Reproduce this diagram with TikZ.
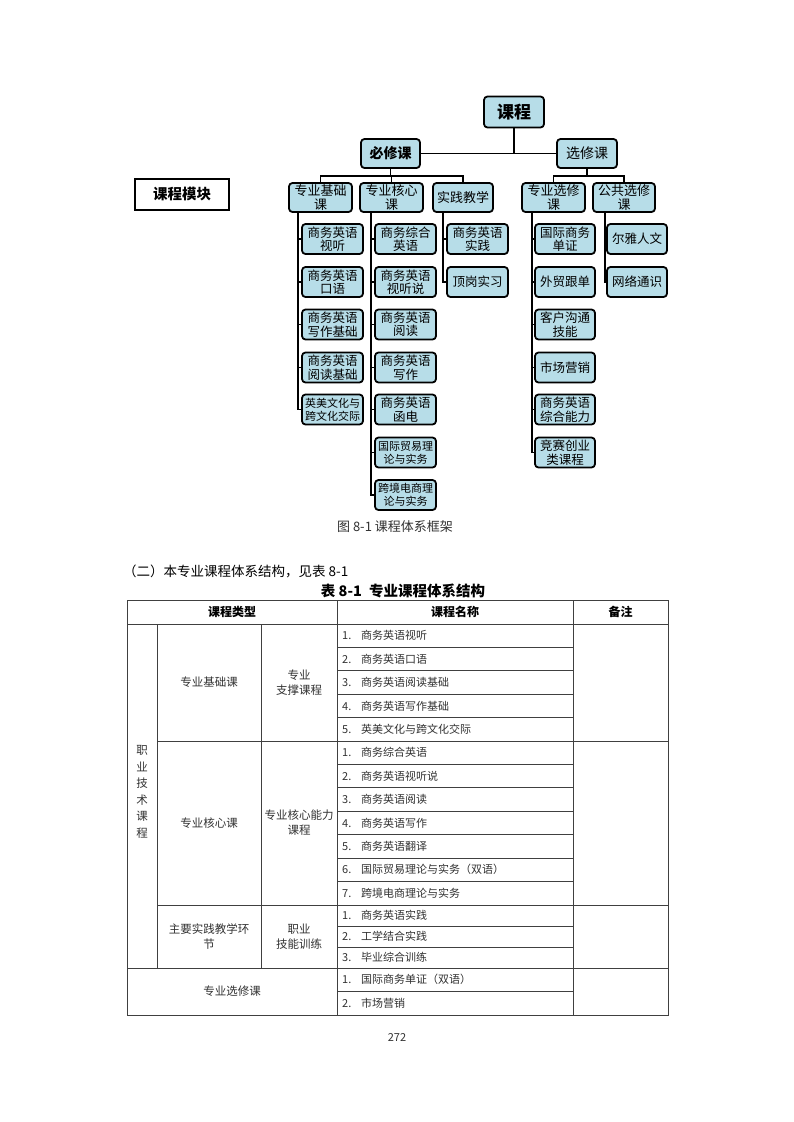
\documentclass[tikz,border=0pt]{standalone}
\usepackage{fontspec}
\setmainfont{Noto Sans CJK SC}
\definecolor{boxblue}{RGB}{183,221,232}
\definecolor{tgray}{RGB}{50,50,50}
\newcommand\myfs[2]{\fontsize{#1}{#2}\selectfont}
\begin{document}
\begin{tikzpicture}[x=1pt,y=-1pt,
  box/.style={draw=black, line width=1.8pt, rounded corners=3.5pt, fill=boxblue,
    align=center, inner sep=0pt, minimum width=61pt, minimum height=30pt,
    font=\myfs{12.5}{13.5}},
  smallbox/.style={box, font=\myfs{11}{13}},
  midbox/.style={box, minimum height=29pt, font=\myfs{13}{14}},
  conn/.style={line width=1.8pt, draw=black},
  tl/.style={line width=0.9pt, draw=black!75},
  ttext/.style={font=\myfs{11.5}{15}, text=tgray, inner sep=0pt, align=center},
  ctext/.style={font=\myfs{11}{13}, text=tgray, inner sep=0pt, anchor=west}
]
\useasboundingbox[fill=white] (0,0) rectangle (793,1122);

% ---------- diagram ----------
\node[box, minimum width=60pt, minimum height=31pt, font=\bfseries\myfs{17}{18}] (root) at (514,112) {课程};
\node[box, minimum width=59pt, minimum height=29pt, font=\bfseries\myfs{14}{15}] (bx) at (390.5,153.5) {必修课};
\node[box, minimum width=60pt, minimum height=29pt, font=\myfs{14}{15}] (xx) at (587,153.5) {选修课};

\node[midbox, minimum width=63pt] (jc) at (320.5,197.5) {专业基础\\课};
\node[midbox, minimum width=63pt] (hx) at (391.5,197.5) {专业核心\\课};
\node[midbox, minimum width=60pt] (sj) at (463,197.5) {实践教学};
\node[midbox, minimum width=63pt] (zx) at (553.5,197.5) {专业选修\\课};
\node[midbox, minimum width=62pt] (gg) at (624,197.5) {公共选修\\课};

\node[draw=black, line width=1.3pt, minimum width=94pt, minimum height=31pt,
  inner sep=0pt, font=\bfseries\myfs{14.5}{15}] (mk) at (182,194.5) {课程模块};

% leaves column 1
\node[box] (a1) at (332.5,239) {商务英语\\视听};
\node[box] (a2) at (332.5,282) {商务英语\\口语};
\node[box] (a3) at (332.5,324.5) {商务英语\\写作基础};
\node[box] (a4) at (332.5,367.5) {商务英语\\阅读基础};
\node[smallbox] (a5) at (332.5,409.5) {英美文化与\\跨文化交际};
% leaves column 2
\node[box] (b1) at (405.5,239) {商务综合\\英语};
\node[box] (b2) at (405.5,282) {商务英语\\视听说};
\node[box] (b3) at (405.5,324.5) {商务英语\\阅读};
\node[box] (b4) at (405.5,367.5) {商务英语\\写作};
\node[box] (b5) at (405.5,409.5) {商务英语\\函电};
\node[smallbox] (b6) at (405.5,452.5) {国际贸易理\\论与实务};
\node[smallbox] (b7) at (405.5,495) {跨境电商理\\论与实务};
% leaves column 3
\node[box] (c1) at (477.5,239) {商务英语\\实践};
\node[box] (c2) at (477.5,282) {顶岗实习};
% leaves column 4
\node[box, minimum width=60pt] (d1) at (565,239) {国际商务\\单证};
\node[box, minimum width=60pt] (d2) at (565,282) {外贸跟单};
\node[box, minimum width=60pt] (d3) at (565,324.5) {客户沟通\\技能};
\node[box, minimum width=60pt] (d4) at (565,367.5) {市场营销};
\node[box, minimum width=60pt] (d5) at (565,409.5) {商务英语\\综合能力};
\node[box, minimum width=60pt] (d6) at (565,452.5) {竞赛创业\\类课程};
% leaves column 5
\node[box, minimum width=60pt] (e1) at (637,239) {尔雅人文};
\node[box, minimum width=60pt] (e2) at (637,282) {网络通识};

% top connectors
\draw[conn] (root.south) -- (root.south |- bx.east);
\draw[conn] (bx.east) -- (xx.west);
\coordinate (bbus) at (390.5,176);
\coordinate (xbus) at (587,176);
\draw[conn] (bx.south) -- (bbus);
\draw[conn] (jc.north) |- (bbus);
\draw[conn] (sj.north) |- (bbus);
\draw[conn] (hx.north) -- (hx.north |- bbus);
\draw[conn] (xx.south) -- (xbus);
\draw[conn] (zx.north) |- (xbus);
\draw[conn] (gg.north) |- (xbus);

% trunks
\coordinate (t1) at (298,212);
\coordinate (t2) at (371,212);
\coordinate (t3) at (443,212);
\coordinate (t4) at (532,212);
\coordinate (t5) at (605,212);
\draw[conn] (t1) |- (a5.west);
\foreach \n in {a1,a2,a3,a4} \draw[conn] (\n.west) -- (\n.west -| t1);
\draw[conn] (t2) |- (b7.west);
\foreach \n in {b1,b2,b3,b4,b5,b6} \draw[conn] (\n.west) -- (\n.west -| t2);
\draw[conn] (t3) |- (c2.west);
\draw[conn] (c1.west) -- (c1.west -| t3);
\draw[conn] (t4) |- (d6.west);
\foreach \n in {d1,d2,d3,d4,d5} \draw[conn] (\n.west) -- (\n.west -| t4);
\draw[conn] (t5) |- (e2.west);
\draw[conn] (e1.west) -- (e1.west -| t5);

% ---------- captions ----------
\node[font=\myfs{13}{14}, text=tgray] (cap) at (395,527) {图 8-1 课程体系框架};
\node[font=\myfs{13.5}{14}, text=black, anchor=west, inner sep=0pt] (para) at (123,571) {（二）本专业课程体系结构，见表 8-1};
\node[font=\bfseries\myfs{14.5}{15}, inner sep=0pt] (ttl) at (403,591) {表 8-1\enspace 专业课程体系结构};

% ---------- table ----------
\draw[tl] (127,600) rectangle (668,1015);
\draw[tl] (127,624) -- (668,624);
\draw[tl] (337,600) -- (337,1015);
\draw[tl] (573,600) -- (573,1015);
\draw[tl] (157.5,624) -- (157.5,968);
\draw[tl] (261,624) -- (261,968);
\draw[tl] (157.5,741) -- (668,741);
\draw[tl] (157.5,905) -- (668,905);
\draw[tl] (127,968) -- (668,968);
\foreach \y in {647.4,670.8,694.2,717.6,764.4,787.9,811.3,834.7,858.1,881.6,926,947,991.5}
  \draw[tl] (337,\y) -- (573,\y);

\node[font=\bfseries\myfs{12}{13}, inner sep=0pt] (h1) at (232,612) {课程类型};
\node[font=\bfseries\myfs{12}{13}, inner sep=0pt] (h2) at (455,612) {课程名称};
\node[font=\bfseries\myfs{12}{13}, inner sep=0pt] (h3) at (620.5,612) {备注};

\node[ttext, font=\myfs{11.5}{16.5}] (zyjs) at (142,792) {职\\业\\技\\术\\课\\程};
\node[ttext] (s1a) at (209,682.5) {专业基础课};
\node[ttext] (s1b) at (299,682.5) {专业\\支撑课程};
\node[ttext] (s2a) at (209,823) {专业核心课};
\node[ttext] (s2b) at (299,823) {专业核心能力\\课程};
\node[ttext] (s3a) at (209,936.5) {主要实践教学环\\节};
\node[ttext] (s3b) at (299,936.5) {职业\\技能训练};
\node[ttext] (s4a) at (232,991.5) {专业选修课};

\newcommand\cn[1]{\makebox[19pt][l]{#1}}
\node[ctext] (r11) at (342,635.7) {\cn{1.}商务英语视听};
\node[ctext] (r12) at (342,659.1) {\cn{2.}商务英语口语};
\node[ctext] (r13) at (342,682.5) {\cn{3.}商务英语阅读基础};
\node[ctext] (r14) at (342,705.9) {\cn{4.}商务英语写作基础};
\node[ctext] (r15) at (342,729.3) {\cn{5.}英美文化与跨文化交际};
\node[ctext] (r21) at (342,752.7) {\cn{1.}商务综合英语};
\node[ctext] (r22) at (342,776.1) {\cn{2.}商务英语视听说};
\node[ctext] (r23) at (342,799.6) {\cn{3.}商务英语阅读};
\node[ctext] (r24) at (342,823) {\cn{4.}商务英语写作};
\node[ctext] (r25) at (342,846.4) {\cn{5.}商务英语翻译};
\node[ctext] (r26) at (342,869.8) {\cn{6.}国际贸易理论与实务（双语）};
\node[ctext] (r27) at (342,893.3) {\cn{7.}跨境电商理论与实务};
\node[ctext] (r31) at (342,915.5) {\cn{1.}商务英语实践};
\node[ctext] (r32) at (342,936.5) {\cn{2.}工学结合实践};
\node[ctext] (r33) at (342,957.5) {\cn{3.}毕业综合训练};
\node[ctext] (r41) at (342,979.7) {\cn{1.}国际商务单证（双语）};
\node[ctext] (r42) at (342,1003.2) {\cn{2.}市场营销};

\node[font=\myfs{11}{12}, text=tgray] (pg) at (397,1037) {272};
\end{tikzpicture}
\end{document}
